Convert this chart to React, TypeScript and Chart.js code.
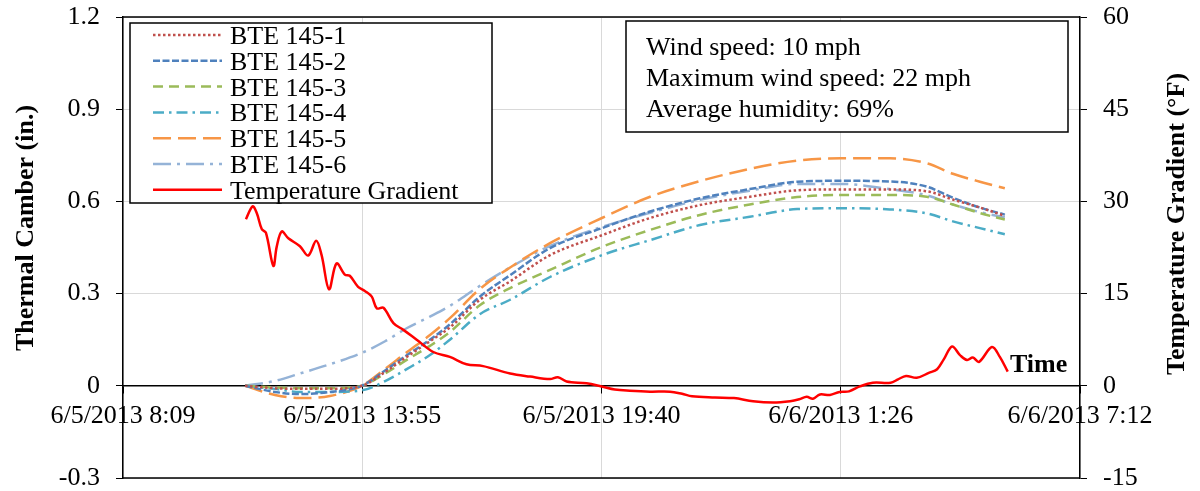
import React, { useEffect, useRef } from 'react';
import { Chart, registerables } from 'chart.js';

Chart.register(...registerables);

// ---------- axis ticks ----------
const X_TICKS = [8.16, 13.92, 19.68, 25.44, 31.2]; // hours since 6/5/2013 0:00
const X_TICK_LABELS = ['6/5/2013 8:09', '6/5/2013 13:55', '6/5/2013 19:40', '6/6/2013 1:26', '6/6/2013 7:12'];
const Y_TICKS = [-0.3, 0, 0.3, 0.6, 0.9, 1.2];
const Y_TICK_LABELS = ['-0.3', '0', '0.3', '0.6', '0.9', '1.2'];
const Y1_TICKS = [-15, 0, 15, 30, 45, 60];
const Y1_TICK_LABELS = ['-15', '0', '15', '30', '45', '60'];

const Y_TITLE = 'Thermal Camber (in.)';
const Y1_TITLE = 'Temperature Gradient (°F)';
const X_TITLE = 'Time';

const SERIES_NAMES = ['BTE 145-1', 'BTE 145-2', 'BTE 145-3', 'BTE 145-4', 'BTE 145-5', 'BTE 145-6', 'Temperature Gradient'];
const INFO_LINES = ['Wind speed: 10 mph', 'Maximum wind speed: 22 mph', 'Average humidity: 69%'];

// ---------- camber data (in.) ----------
const CAMBER_TIME = [11.1, 11.82, 12.42, 13.14, 13.91, 14.47, 15.0, 15.55, 16.03, 16.75, 17.48, 18.44, 19.69, 20.85, 22.05, 23.25, 24.39, 25.44, 26.62, 27.51, 28.14, 28.79, 29.39];
const BTE_145_1 = [0, -0.008, -0.01, -0.01, 0, 0.045, 0.095, 0.145, 0.19, 0.28, 0.34, 0.425, 0.49, 0.546, 0.588, 0.615, 0.636, 0.639, 0.639, 0.633, 0.606, 0.58, 0.553];
const BTE_145_2 = [0, -0.02, -0.027, -0.02, 0, 0.05, 0.1, 0.15, 0.2, 0.29, 0.36, 0.448, 0.513, 0.567, 0.61, 0.64, 0.664, 0.667, 0.665, 0.648, 0.612, 0.58, 0.557];
const BTE_145_3 = [0, -0.005, -0.008, -0.008, 0, 0.04, 0.085, 0.13, 0.175, 0.262, 0.318, 0.377, 0.452, 0.507, 0.556, 0.59, 0.614, 0.621, 0.621, 0.615, 0.59, 0.562, 0.541];
const BTE_145_4 = [0, -0.01, -0.02, -0.02, -0.015, 0.015, 0.055, 0.1, 0.15, 0.233, 0.28, 0.354, 0.425, 0.474, 0.523, 0.55, 0.575, 0.578, 0.574, 0.561, 0.535, 0.513, 0.493];
const BTE_145_5 = [0, -0.03, -0.04, -0.033, 0, 0.055, 0.11, 0.165, 0.22, 0.315, 0.385, 0.464, 0.546, 0.615, 0.666, 0.706, 0.733, 0.74, 0.74, 0.724, 0.69, 0.664, 0.643];
const BTE_145_6 = [0, 0.016, 0.04, 0.07, 0.107, 0.145, 0.188, 0.225, 0.26, 0.325, 0.385, 0.455, 0.517, 0.563, 0.605, 0.635, 0.657, 0.657, 0.64, 0.62, 0.59, 0.565, 0.548];

// ---------- temperature gradient (°F) ----------
const TEMP_TIME = [11.12, 11.28, 11.38, 11.5, 11.6, 11.78, 11.86, 11.98, 12.14, 12.42, 12.62, 12.81, 12.94, 13.12, 13.3, 13.5, 13.62, 13.82, 13.99, 14.15, 14.27, 14.43, 14.67, 14.91, 15.23, 15.63, 16.03, 16.43, 16.83, 17.48, 17.96, 18.44, 18.63, 18.84, 19.32, 19.68, 20.0, 20.36, 20.85, 21.33, 21.62, 21.86, 22.41, 22.87, 23.33, 23.81, 24.22, 24.44, 24.62, 24.77, 24.94, 25.18, 25.41, 25.64, 25.9, 26.21, 26.64, 26.82, 27.01, 27.27, 27.56, 27.76, 27.92, 28.12, 28.31, 28.48, 28.62, 28.77, 29.08, 29.27, 29.46];
const TEMP_GRADIENT = [27.1, 29.2, 28.1, 25.5, 24.9, 19.5, 22.6, 25.1, 24.0, 22.7, 21.2, 23.6, 21.3, 15.7, 19.9, 18.1, 17.9, 16.1, 15.4, 14.5, 12.6, 12.7, 10.2, 9.1, 7.5, 5.5, 4.7, 3.5, 3.2, 2.0, 1.5, 1.1, 1.4, 0.7, 0.4, -0.1, -0.6, -0.8, -0.95, -0.95, -1.3, -1.7, -1.9, -2.0, -2.5, -2.7, -2.5, -2.2, -1.8, -2.1, -1.4, -1.5, -1.0, -0.9, -0.1, 0.5, 0.5, 1.05, 1.6, 1.3, 2.1, 2.7, 4.3, 6.4, 5.0, 4.2, 4.6, 3.9, 6.3, 4.7, 2.3];

const FONT = "'Liberation Serif', 'Times New Roman', serif";

const pts = (xs: number[], ys: number[]) => xs.map((x, i) => ({ x, y: ys[i] }));

const overlayPlugin = {
  id: 'overlay',
  afterDraw(chart: any) {
    const { ctx, chartArea: a } = chart;
    ctx.save();
    // top & bottom border of plot area
    ctx.strokeStyle = '#000';
    ctx.lineWidth = 1.5;
    ctx.beginPath();
    ctx.moveTo(a.left, a.top);
    ctx.lineTo(a.right, a.top);
    ctx.moveTo(a.left, a.bottom);
    ctx.lineTo(a.right, a.bottom);
    ctx.stroke();

    ctx.fillStyle = '#000';
    // axis titles
    ctx.font = `bold 26px ${FONT}`;
    ctx.textAlign = 'center';
    ctx.textBaseline = 'middle';
    ctx.save();
    ctx.translate(26, 228);
    ctx.rotate(-Math.PI / 2);
    ctx.fillText(Y_TITLE, 0, 0);
    ctx.restore();
    ctx.save();
    ctx.translate(1177, 224);
    ctx.rotate(-Math.PI / 2);
    ctx.fillText(Y1_TITLE, 0, 0);
    ctx.restore();

    ctx.textAlign = 'left';
    ctx.textBaseline = 'alphabetic';
    ctx.fillText(X_TITLE, 1010, 372);

    // legend box
    ctx.fillStyle = '#fff';
    ctx.fillRect(130, 23, 362, 180);
    ctx.strokeStyle = '#000';
    ctx.lineWidth = 1.5;
    ctx.strokeRect(130, 23, 362, 180);
    ctx.font = `26px ${FONT}`;
    chart.data.datasets.forEach((ds: any, i: number) => {
      const ly = 35 + i * 25.8;
      ctx.save();
      ctx.strokeStyle = ds.borderColor;
      ctx.lineWidth = ds.borderWidth;
      ctx.setLineDash(ds.borderDash || []);
      ctx.beginPath();
      ctx.moveTo(153, ly);
      ctx.lineTo(222, ly);
      ctx.stroke();
      ctx.restore();
      ctx.fillStyle = '#000';
      ctx.fillText(ds.label, 230, 44 + i * 25.8);
    });

    // info box
    ctx.fillStyle = '#fff';
    ctx.fillRect(626, 21, 442, 111);
    ctx.strokeStyle = '#000';
    ctx.lineWidth = 1.5;
    ctx.strokeRect(626, 21, 442, 111);
    ctx.fillStyle = '#000';
    INFO_LINES.forEach((t, i) => ctx.fillText(t, 646, 55 + i * 31));
    ctx.restore();
  },
};

const noVerticalOverflow = (s: any, w: number) => {
  s.width = w;
  s.paddingTop = 0;
  s.paddingBottom = 0;
};

export default function App() {
  const ref = useRef<HTMLCanvasElement>(null);
  useEffect(() => {
    if (!ref.current) return;
    Chart.defaults.font.family = FONT;
    Chart.defaults.font.size = 26;
    Chart.defaults.color = '#000';
    const camberStyles = [
      { color: '#C0504D', dash: [2.5, 2.5] },
      { color: '#4F81BD', dash: [7, 2.5] },
      { color: '#9BBB59', dash: [10, 6] },
      { color: '#4BACC6', dash: [11, 5, 2.5, 5] },
      { color: '#F79646', dash: [18, 7] },
      { color: '#95B3D7', dash: [18, 6, 3, 6] },
    ];
    const camberValues = [BTE_145_1, BTE_145_2, BTE_145_3, BTE_145_4, BTE_145_5, BTE_145_6];
    const datasets: any[] = camberValues.map((vals, i) => ({
      label: SERIES_NAMES[i],
      data: pts(CAMBER_TIME, vals),
      borderColor: camberStyles[i].color,
      borderDash: camberStyles[i].dash,
      borderWidth: 2.5,
      pointRadius: 0,
      fill: false,
      cubicInterpolationMode: 'monotone',
      yAxisID: 'y',
      order: 1 + i,
    }));
    datasets.push({
      label: SERIES_NAMES[6],
      data: pts(TEMP_TIME, TEMP_GRADIENT),
      borderColor: '#FF0000',
      borderWidth: 2.5,
      borderDash: [],
      pointRadius: 0,
      fill: false,
      tension: 0.35,
      yAxisID: 'y1',
      order: 0,
    });

    const chart = new Chart(ref.current, {
      type: 'line',
      data: { datasets },
      plugins: [overlayPlugin],
      options: {
        responsive: false,
        animation: false,
        devicePixelRatio: 1,
        layout: { padding: { left: 0, right: 0, top: 17, bottom: 13 } },
        plugins: { legend: { display: false }, tooltip: { enabled: false } },
        scales: {
          x: {
            type: 'linear',
            position: { y: 0 } as any,
            min: X_TICKS[0],
            max: X_TICKS[X_TICKS.length - 1],
            afterBuildTicks: (s: any) => {
              s.ticks = X_TICKS.map((v) => ({ value: v }));
            },
            afterFit: (s: any) => {
              s.paddingLeft = 0;
              s.paddingRight = 0;
            },
            ticks: {
              autoSkip: false,
              maxRotation: 0,
              padding: 8,
              callback: (_v: any, i: number) => X_TICK_LABELS[i],
            },
            grid: { color: '#d9d9d9', lineWidth: 1, tickLength: 7, tickColor: '#000' },
            border: { color: '#000', width: 1.5 },
          },
          y: {
            type: 'linear',
            position: 'left',
            min: -0.3,
            max: 1.2,
            afterBuildTicks: (s: any) => {
              s.ticks = Y_TICKS.map((v) => ({ value: v }));
            },
            afterFit: (s: any) => noVerticalOverflow(s, 123),
            ticks: {
              padding: 16,
              callback: (_v: any, i: number) => Y_TICK_LABELS[i],
            },
            grid: { color: '#d9d9d9', lineWidth: 1, tickLength: 7, tickColor: '#000' },
            border: { color: '#000', width: 1.5 },
          },
          y1: {
            type: 'linear',
            position: 'right',
            min: -15,
            max: 60,
            afterBuildTicks: (s: any) => {
              s.ticks = Y1_TICKS.map((v) => ({ value: v }));
            },
            afterFit: (s: any) => noVerticalOverflow(s, 120),
            ticks: {
              padding: 16,
              callback: (_v: any, i: number) => Y1_TICK_LABELS[i],
            },
            grid: { drawOnChartArea: false, tickLength: 7, tickColor: '#000' },
            border: { color: '#000', width: 1.5 },
          },
        },
      } as any,
    });
    return () => chart.destroy();
  }, []);

  return (
    <div style={{ position: 'absolute', left: 0, top: 0, width: 1200, height: 491, background: '#fff' }}>
      <canvas ref={ref} width={1200} height={491} style={{ display: 'block' }} />
    </div>
  );
}
